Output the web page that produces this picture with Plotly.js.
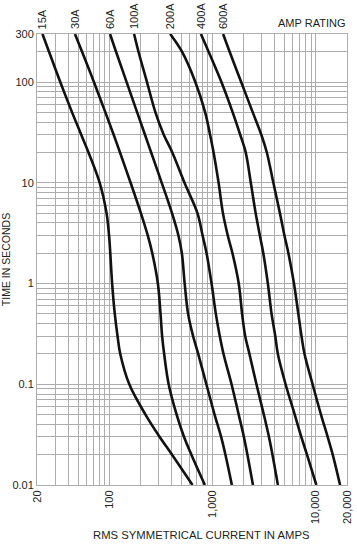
<!DOCTYPE html>
<html>
<head>
<meta charset="utf-8">
<script src="https://cdn.plot.ly/plotly-3.0.1.min.js"></script>
<style>html,body{margin:0;padding:0;background:#fff;}#chart{width:357px;height:544px;}</style>
</head>
<body>
<div id="chart"></div>
<script>
// Time (seconds) levels shared by every curve
var times = [300, 200, 100, 50, 30, 20, 10, 5, 3, 2, 1, 0.5, 0.3, 0.2, 0.1, 0.05, 0.03, 0.02, 0.01];

// RMS symmetrical current (A) per amp rating, at each time level
var amp15  = [22.6, 26.15, 33.6, 43.7, 53.6, 63, 80.9, 94.2, 99.6, 102.4, 106.7, 113.2, 120.4, 127.9, 156.4, 224.3, 307.9, 405.6, 640];
var amp30  = [46.6, 54.6, 71.1, 91.8, 110.4, 127.2, 161, 202.4, 236, 261, 295.7, 313.7, 325, 340, 376, 449, 530, 624, 843];
var amp60  = [101.8, 116.4, 147.3, 186.4, 221.8, 254.6, 322.2, 405, 467.2, 504.7, 537.1, 579.8, 648.6, 726.4, 871, 1046, 1210, 1332, 1538];
var amp100 = [174, 192, 232, 280, 337, 408, 535, 714, 801, 875, 978, 1076, 1175, 1277, 1527, 1790, 2011, 2175, 2460];
var amp200 = [389, 506, 681, 848, 946, 1023, 1144, 1260, 1403, 1558, 1792, 1932, 2070, 2275, 2660, 3135, 3515, 3800, 4290];
var amp400 = [771, 916, 1218, 1566, 1852, 2094, 2345, 2612, 2870, 3097, 3428, 3725, 4046, 4285, 5090, 6240, 7225, 8200, 10100];
var amp600 = [1265, 1463, 1892, 2449, 2964, 3352, 3877, 4486, 4961, 5420, 6135, 6761, 7260, 7762, 9290, 11200, 13000, 14550, 17140];

var ratingLabels = ['15A', '30A', '60A', '100A', '200A', '400A', '600A'];

// Axis grid values and tick labels
var xGrid = [20,30,40,50,60,70,80,90,100,200,300,400,500,600,700,800,900,1000,2000,3000,4000,5000,6000,7000,8000,9000,10000,20000];
var xLabeled = {20:'20', 100:'100', 1000:'1,000', 10000:'10,000', 20000:'20,000'};
var yGrid = [0.01,0.02,0.03,0.04,0.05,0.06,0.07,0.08,0.09,0.1,0.2,0.3,0.4,0.5,0.6,0.7,0.8,0.9,1,2,3,4,5,6,7,8,9,10,20,30,40,50,60,70,80,90,100,200,300];
var yLabeled = {0.01:'0.01', 0.1:'0.1', 1:'1', 10:'10', 100:'100', 300:'300'};

var series = [amp15, amp30, amp60, amp100, amp200, amp400, amp600];
var traces = series.map(function (xs, i) {
  return {
    x: xs, y: times, type: 'scatter', mode: 'lines', name: ratingLabels[i],
    line: {color: '#111111', width: 2.6, shape: 'spline', smoothing: 1},
    hoverinfo: 'skip'
  };
});

var font = 'Liberation Sans, Arial, sans-serif';
var txt = '#231f20';
var gridCol = '#adadad';

var annotations = series.map(function (xs, i) {
  return {
    x: Math.log10(xs[0]), xref: 'x', y: 1, yref: 'paper', yshift: 3,
    text: ratingLabels[i], textangle: -90, showarrow: false,
    xanchor: 'center', yanchor: 'bottom',
    font: {family: font, size: 11, color: txt}
  };
});
annotations.push({
  x: 1, xref: 'paper', xanchor: 'right', y: 1.024, yref: 'paper', yanchor: 'middle',
  text: 'AMP RATING', showarrow: false, font: {family: font, size: 11, color: txt}
});
annotations.push({
  x: (201 - 37) / 310, xref: 'paper', y: 0, yref: 'paper', yshift: -50, yanchor: 'middle',
  text: 'RMS SYMMETRICAL CURRENT IN AMPS', showarrow: false,
  font: {family: font, size: 11.3, color: txt}
});

var layout = {
  width: 357, height: 544,
  margin: {l: 37, r: 10, t: 34, b: 59},
  paper_bgcolor: '#ffffff', plot_bgcolor: '#ffffff',
  showlegend: false,
  font: {family: font, size: 11, color: txt},
  xaxis: {
    type: 'log', range: [Math.log10(20), Math.log10(20000)],
    tickmode: 'array', tickvals: xGrid,
    ticktext: xGrid.map(function (v) { return xLabeled[v] || ''; }),
    tickangle: -90, ticks: '', showgrid: true, gridcolor: gridCol, gridwidth: 1,
    showline: true, mirror: true, linecolor: gridCol, linewidth: 1,
    zeroline: false, tickfont: {family: font, size: 11, color: txt}
  },
  yaxis: {
    type: 'log', range: [-2, Math.log10(300)],
    tickmode: 'array', tickvals: yGrid,
    ticktext: yGrid.map(function (v) { return yLabeled[v] || ''; }),
    ticks: '', showgrid: true, gridcolor: gridCol, gridwidth: 1,
    showline: true, mirror: true, linecolor: gridCol, linewidth: 1,
    zeroline: false, tickfont: {family: font, size: 11, color: txt},
    title: {text: 'TIME IN SECONDS', font: {family: font, size: 10.5, color: txt}, standoff: 4}
  },
  annotations: annotations
};

Plotly.newPlot('chart', traces, layout, {displayModeBar: false, staticPlot: true});
</script>
</body>
</html>
